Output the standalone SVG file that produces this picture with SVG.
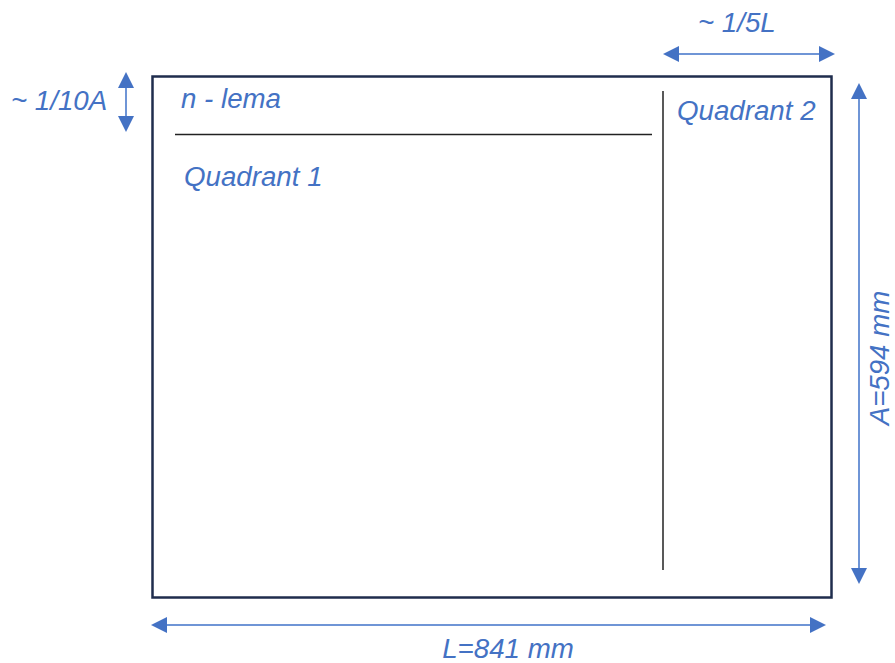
<svg xmlns="http://www.w3.org/2000/svg" width="895" height="663" viewBox="0 0 895 663">
<style>
.t{font-family:"Liberation Sans",Arial,sans-serif;font-size:27.7px;font-style:italic;fill:#4472c4}
.dim{stroke:#6f95d6;stroke-width:2;fill:none}
.ah{fill:#4472c4}
</style>
<rect width="895" height="663" fill="#fff"/>
<g id="sheet">
<rect x="152.5" y="76.5" width="679" height="521" fill="none" stroke="#1f2d4d" stroke-width="2.5"/>
<line x1="175" y1="134.5" x2="652" y2="134.5" stroke="#222" stroke-width="1.5"/>
<line x1="663" y1="91" x2="663" y2="570" stroke="#222" stroke-width="1.5"/>
</g>
<g id="labels">
<text class="t" x="181" y="108">n - lema</text>
<text class="t" x="184" y="186">Quadrant 1</text>
<text class="t" x="677" y="120">Quadrant 2</text>
<text class="t" x="11" y="110">~ 1/10A</text>
<text class="t" x="698" y="32">~ 1/5L</text>
<text class="t" x="508" y="658" text-anchor="middle">L=841 mm</text>
<text class="t" transform="translate(889,358) rotate(-90)" text-anchor="middle">A=594 mm</text>
</g>
<g id="connectors">
<line class="dim" x1="126" y1="86" x2="126" y2="118"/>
<polygon class="ah" points="126,72 118,88 134,88"/>
<polygon class="ah" points="126,132 118,116 134,116"/>
<line class="dim" x1="677" y1="54" x2="821" y2="54"/>
<polygon class="ah" points="663,54 679,46 679,62"/>
<polygon class="ah" points="835,54 819,46 819,62"/>
<line class="dim" x1="859" y1="97" x2="859" y2="570"/>
<polygon class="ah" points="859,83 851,99 867,99"/>
<polygon class="ah" points="859,584 851,568 867,568"/>
<line class="dim" x1="165" y1="625" x2="812" y2="625"/>
<polygon class="ah" points="151,625 167,617 167,633"/>
<polygon class="ah" points="826,625 810,617 810,633"/>
</g>
</svg>
